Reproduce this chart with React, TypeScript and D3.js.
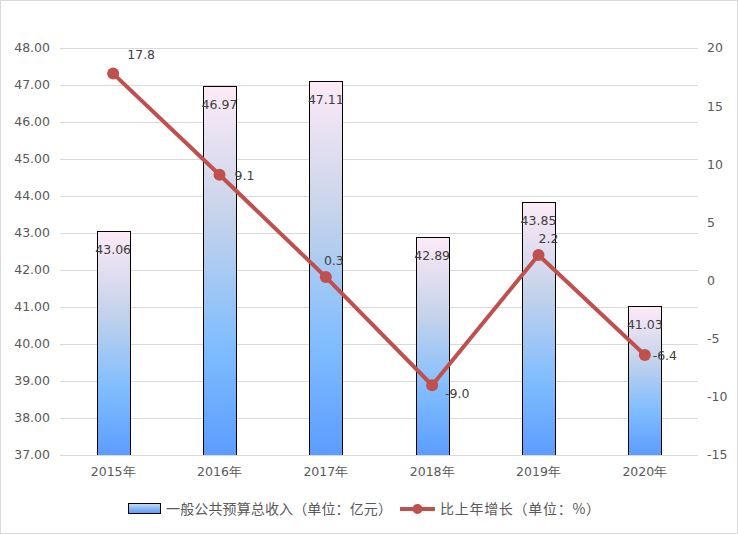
import * as d3 from 'd3'

const years = ['2015年', '2016年', '2017年', '2018年', '2019年', '2020年']
const revenue = [43.06, 46.97, 47.11, 42.89, 43.85, 41.03]
const growth = [17.8, 9.1, 0.3, -9.0, 2.2, -6.4]
const leftTicks = [37, 38, 39, 40, 41, 42, 43, 44, 45, 46, 47, 48]
const rightTicks = [-15, -10, -5, 0, 5, 10, 15, 20]
const barName = '一般公共预算总收入（单位：亿元）'
const lineName = '比上年增长（单位：%）'

// label offsets for the line labels (dx, dy), like in the original chart
const lineLabelOffset: [number, number][] = [
  [28, -19],
  [25, 1],
  [8, -16],
  [25, 8],
  [10, -16],
  [20, 1],
]

const width = 738
const height = 534
const margin = { top: 48, right: 40, bottom: 79, left: 60 }

export default function App() {
  const x = d3
    .scaleBand<string>()
    .domain(years)
    .range([margin.left, width - margin.right])
    .paddingInner(0.69)
    .paddingOuter(0.345)
  const yL = d3.scaleLinear().domain([37, 48]).range([height - margin.bottom, margin.top])
  const yR = d3.scaleLinear().domain([-15, 20]).range([height - margin.bottom, margin.top])
  const cx = (d: string) => (x(d) ?? 0) + x.bandwidth() / 2
  const line = d3
    .line<number>()
    .x((_, i) => cx(years[i]))
    .y(d => yR(d))

  const font = "'DejaVu Sans', Verdana, sans-serif"
  const cjk = "'Noto Sans CJK SC', sans-serif"
  const textColor = '#595959'

  return (
    <svg
      width={width}
      height={height}
      style={{ position: 'absolute', left: 0, top: 0, background: '#fff' }}
    >
      <defs>
        <linearGradient id="barGrad" x1="0" y1="0" x2="0" y2="1">
          <stop offset="0" stopColor="#fdeaf7" />
          <stop offset="0.35" stopColor="#c6d3ea" />
          <stop offset="0.7" stopColor="#80bdfe" />
          <stop offset="1" stopColor="#5c9cff" />
        </linearGradient>
        <linearGradient id="legGrad" x1="0" y1="0" x2="0" y2="1">
          <stop offset="0" stopColor="#c9ddf7" />
          <stop offset="0.5" stopColor="#8ab9f3" />
          <stop offset="1" stopColor="#5c9cff" />
        </linearGradient>
      </defs>
      <rect x={0.5} y={0.5} width={width - 1} height={height - 1} fill="#fff" stroke="#d9d9d9" />

      {leftTicks.map(t => (
        <g key={t}>
          <line
            x1={margin.left}
            x2={width - margin.right}
            y1={Math.round(yL(t)) + 0.5}
            y2={Math.round(yL(t)) + 0.5}
            stroke="#d9d9d9"
          />
          <text
            x={margin.left - 10}
            y={yL(t)}
            dy="0.35em"
            textAnchor="end"
            fontSize={12.5}
            fontFamily={font}
            fill={textColor}
          >
            {t.toFixed(2)}
          </text>
        </g>
      ))}
      {rightTicks.map(t => (
        <text
          key={t}
          x={width - margin.right + 9}
          y={yR(t)}
          dy="0.35em"
          textAnchor="start"
          fontSize={12.5}
          fontFamily={font}
          fill={textColor}
        >
          {t}
        </text>
      ))}

      {revenue.map((v, i) => (
        <rect
          key={years[i]}
          x={Math.round(x(years[i]) ?? 0) + 0.5}
          y={Math.round(yL(v)) + 0.5}
          width={Math.round(x.bandwidth())}
          height={Math.round(yL(37) - yL(v))}
          fill="url(#barGrad)"
          stroke="#000"
          strokeWidth={1}
        />
      ))}

      {years.map(y => (
        <text
          key={y}
          x={cx(y)}
          y={height - margin.bottom + 17}
          dy="0.35em"
          textAnchor="middle"
          fontSize={12.5}
          fontFamily={font}
          fill={textColor}
        >
          {y}
        </text>
      ))}

      {revenue.map((v, i) => (
        <text
          key={'l' + i}
          x={cx(years[i])}
          y={yL(v) + 19}
          dy="0.35em"
          textAnchor="middle"
          fontSize={12.5}
          fontFamily={font}
          fill="#404040"
        >
          {v.toFixed(2)}
        </text>
      ))}

      <path d={line(growth) ?? ''} fill="none" stroke="#c0504d" strokeWidth={4} strokeLinejoin="round" />
      {growth.map((g, i) => (
        <circle key={'c' + i} cx={cx(years[i])} cy={yR(g)} r={6} fill="#c0504d" />
      ))}
      {growth.map((g, i) => (
        <text
          key={'g' + i}
          x={cx(years[i]) + lineLabelOffset[i][0]}
          y={yR(g) + lineLabelOffset[i][1]}
          dy="0.35em"
          textAnchor="middle"
          fontSize={12.5}
          fontFamily={font}
          fill="#404040"
        >
          {g.toFixed(1)}
        </text>
      ))}

      <line x1={margin.left} x2={width - margin.right} y1={height - margin.bottom + 0.5} y2={height - margin.bottom + 0.5} stroke="#d9d9d9" />

      <g transform="translate(128,503)">
        <rect x={0.5} y={0.5} width={32} height={10} fill="url(#legGrad)" stroke="#000" />
        <text
          x={38}
          y={6}
          dy="0.35em"
          fontSize={14}
          fontFamily={cjk}
          fill={textColor}
          textLength={226}
          lengthAdjust="spacing"
        >
          {barName}
        </text>
        <line x1={272} x2={307} y1={6} y2={6} stroke="#c0504d" strokeWidth={4} />
        <circle cx={289.5} cy={6} r={5} fill="#c0504d" />
        <text
          x={312}
          y={6}
          dy="0.35em"
          fontSize={14}
          fontFamily={cjk}
          fill={textColor}
          textLength={160}
          lengthAdjust="spacing"
        >
          {lineName}
        </text>
      </g>
    </svg>
  )
}
